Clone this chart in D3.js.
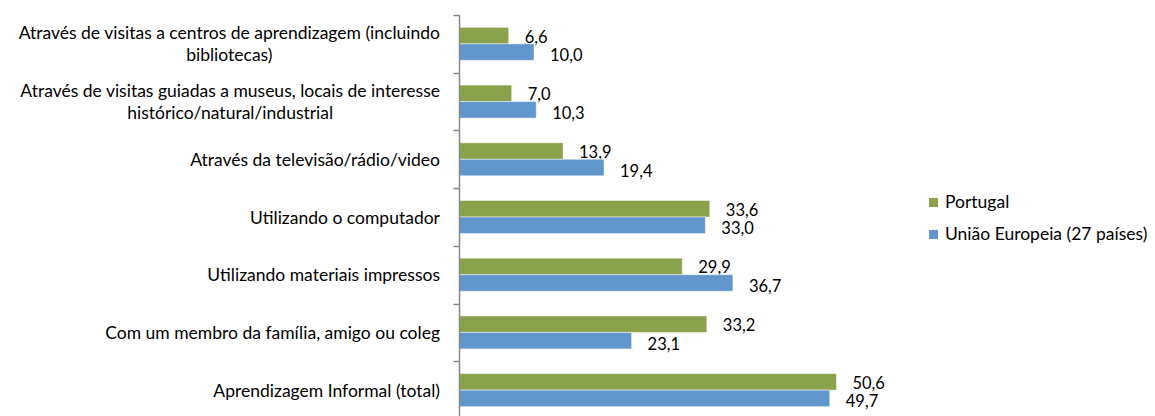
<!DOCTYPE html>
<html>
<head>
<meta charset="utf-8">
<script src="https://cdn.jsdelivr.net/npm/d3@7"></script>
<style>
  html, body { margin: 0; padding: 0; background: #fff; }
  svg { display: block; font-family: Lato, "Open Sans", sans-serif; }
</style>
</head>
<body>
<svg id="chart" width="1155" height="416"></svg>
<script>
// Categories (line breaks mark where the long labels wrap)
const categories = [
  "Através de visitas a centros de aprendizagem (incluindo\nbibliotecas)",
  "Através de visitas guiadas a museus, locais de interesse\nhistórico/natural/industrial",
  "Através da televisão/rádio/video",
  "Utilizando o computador",
  "Utilizando materiais impressos",
  "Com um membro da família, amigo ou coleg",
  "Aprendizagem Informal (total)"
];
const seriesNames = ["Portugal", "União Europeia (27 países)"];
const portugal = [6.6, 7.0, 13.9, 33.6, 29.9, 33.2, 50.6];
const uniaoEuropeia = [10.0, 10.3, 19.4, 33.0, 36.7, 23.1, 49.7];
const colors = ["#8ba24c", "#6197cc"];

const svg = d3.select("#chart");
const fontSize = 17.5;
const valueFontSize = 16.5;

const axisX = 459.5;
const x = d3.scaleLinear().domain([0, 60]).range([axisX, axisX + 447]);
const y0 = d3.scaleBand().domain(categories).range([15, 419]);
const y1 = d3.scaleBand().domain(seriesNames).range([0, y0.bandwidth()]).paddingOuter(0.75);

const values = [portugal, uniaoEuropeia];
const fmt = v => d3.format(".1f")(v).replace(".", ",");

// Bars
const groups = svg.append("g").selectAll("g")
  .data(categories)
  .join("g")
  .attr("transform", d => `translate(0,${y0(d)})`);

seriesNames.forEach((s, si) => {
  groups.append("rect")
    .attr("x", x(0))
    .attr("y", y1(s))
    .attr("width", (d, i) => x(values[si][i]) - x(0))
    .attr("height", y1.bandwidth())
    .attr("fill", colors[si])
    .attr("stroke", "rgba(255,255,255,0.45)")
    .attr("stroke-width", 1);

  groups.append("text")
    .attr("x", (d, i) => x(values[si][i]) + 16)
    .attr("y", y1(s) + y1.bandwidth() / 2 + (si === 0 ? 7 : 9))
    .attr("font-size", valueFontSize)
    .attr("fill", "#000")
    .text((d, i) => fmt(values[si][i]));
});

// Vertical axis with outward ticks at band boundaries
const axisG = svg.append("g");
axisG.append("line")
  .attr("x1", axisX).attr("x2", axisX)
  .attr("y1", 15).attr("y2", 416)
  .attr("stroke", "#888").attr("stroke-width", 1.5);
const boundaries = categories.map(c => y0(c)).concat([y0.range()[1]]);
axisG.selectAll("line.tick")
  .data(boundaries)
  .join("line")
  .attr("class", "tick")
  .attr("x1", axisX - 6).attr("x2", axisX)
  .attr("y1", d => Math.round(d) + 0.5).attr("y2", d => Math.round(d) + 0.5)
  .attr("stroke", "#888").attr("stroke-width", 1.5);

// Category labels: block right-aligned, wrapped lines centred within the block
const labelRight = 440;
const lineH = 22;
categories.forEach(c => {
  const lines = c.split("\n");
  const g = svg.append("g");
  const texts = lines.map(l => g.append("text")
    .attr("font-size", fontSize).attr("fill", "#000").text(l));
  const widths = texts.map(t => t.node().getComputedTextLength());
  const maxW = d3.max(widths);
  const cy = y0(c) + y0.bandwidth() / 2;
  const firstBase = cy + 6.5 - (lines.length - 1) * lineH / 2;
  texts.forEach((t, i) => {
    t.attr("text-anchor", "middle")
      .attr("x", labelRight - maxW / 2)
      .attr("y", firstBase + i * lineH);
  });
});

// Legend
const legend = svg.append("g").attr("transform", "translate(929,198)");
seriesNames.forEach((s, i) => {
  const row = legend.append("g").attr("transform", `translate(0,${i * 32})`);
  row.append("rect").attr("width", 9).attr("height", 9).attr("fill", colors[i]);
  row.append("text").attr("x", 16).attr("y", 9.5)
    .attr("font-size", fontSize).attr("fill", "#000").text(s);
});
</script>
</body>
</html>
